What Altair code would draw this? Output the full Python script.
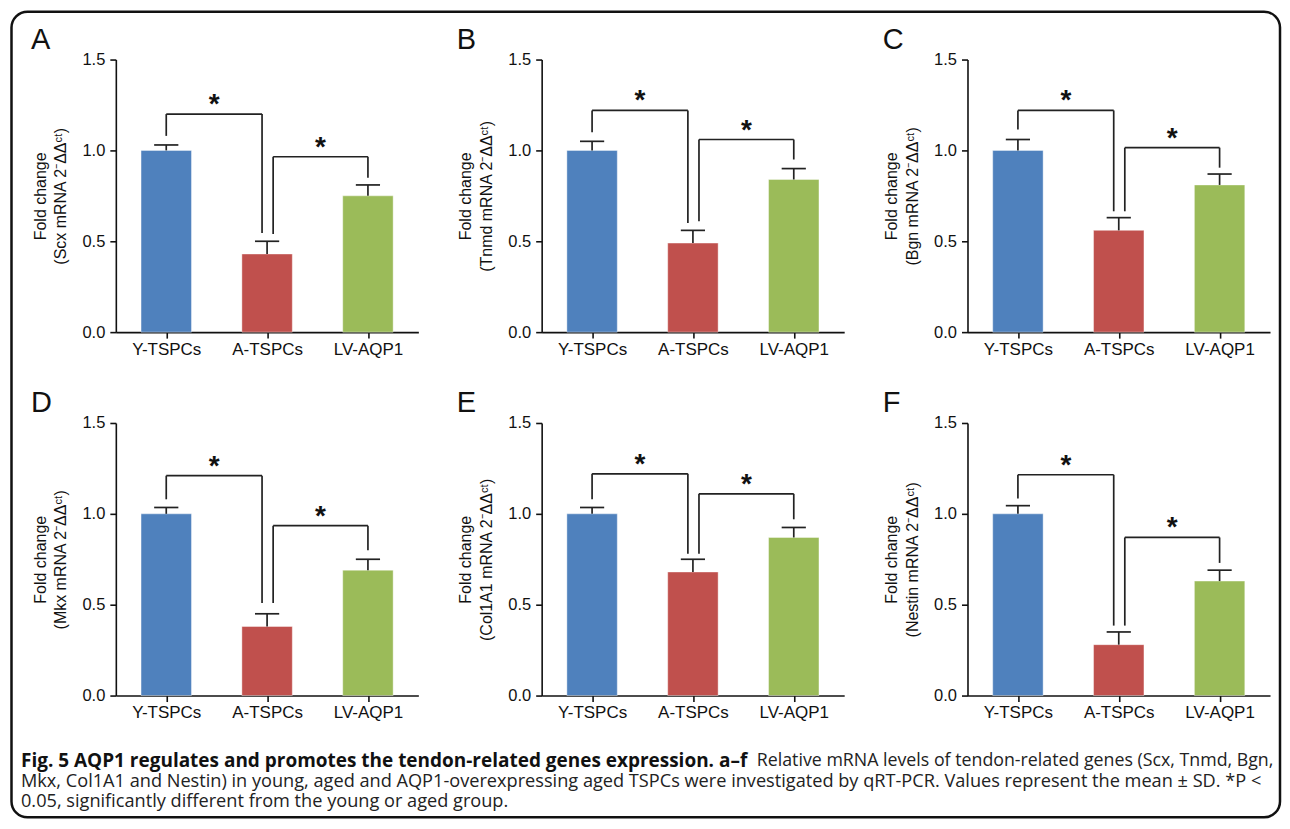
import json
import altair as alt
import pandas as pd

# ---------------- data ----------------
groups = ["Y-TSPCs", "A-TSPCs", "LV-AQP1"]
colors = ["#4F81BD", "#C0504D", "#9BBB59"]
letters = ["A", "B", "C", "D", "E", "F"]
genes = ["Scx", "Tnmd", "Bgn", "Mkx", "Col1A1", "Nestin"]
means = [
    [1.00, 0.43, 0.75],
    [1.00, 0.49, 0.84],
    [1.00, 0.56, 0.81],
    [1.00, 0.38, 0.69],
    [1.00, 0.68, 0.87],
    [1.00, 0.28, 0.63],
]
sds = [
    [0.030, 0.07, 0.060],
    [0.050, 0.07, 0.060],
    [0.060, 0.07, 0.060],
    [0.035, 0.07, 0.060],
    [0.035, 0.07, 0.055],
    [0.045, 0.07, 0.060],
]
# significance brackets: [left leg bottom, bracket top, right leg bottom]
br_young_aged = [
    [1.080, 1.200, 0.545],
    [1.100, 1.220, 0.600],
    [1.115, 1.220, 0.665],
    [1.080, 1.210, 0.510],
    [1.080, 1.220, 0.780],
    [1.085, 1.215, 0.385],
]
br_aged_lv = [
    [0.540, 0.965, 0.850],
    [0.610, 1.060, 0.950],
    [0.665, 1.015, 0.905],
    [0.510, 0.935, 0.800],
    [0.780, 1.110, 0.970],
    [0.385, 0.870, 0.730],
]
y_ticks = [0.0, 0.5, 1.0, 1.5]

caption_bold = "Fig. 5 AQP1 regulates and promotes the tendon-related genes expression. a\u2013f"
caption_l1 = "Relative mRNA levels of tendon-related genes (Scx, Tnmd, Bgn,"
caption_l2 = ("Mkx, Col1A1 and Nestin) in young, aged and AQP1-overexpressing aged TSPCs "
              "were investigated by qRT-PCR. Values represent the mean \u00b1 SD. *P <")
caption_l3 = "0.05, significantly different from the young or aged group."

FONT = "Liberation Sans"
CAP_FONT = "Open Sans"
PW, PH = 303, 273

label_expr = json.dumps(groups) + "[floor(datum.value)]"


def panel(k):
    pos = [i + 0.5 for i in range(3)]
    bars = pd.DataFrame({
        "group": groups,
        "x": [p - 0.25 for p in pos],
        "x2": [p + 0.25 for p in pos],
        "y": means[k],
        "y2": [0.0] * 3,
    })
    segs = []
    for p, m, s in zip(pos, means[k], sds[k]):
        segs.append((p, p, m, m + s))
        segs.append((p - 0.12, p + 0.12, m + s, m + s))
    stars = []
    for (xl, xr), b in (((0.5, 1.45), br_young_aged[k]), ((1.56, 2.5), br_aged_lv[k])):
        segs.append((xl, xl, b[0], b[1]))
        segs.append((xl, xr, b[1], b[1]))
        segs.append((xr, xr, b[1], b[2]))
        stars.append({"x": (xl + xr) / 2, "y": b[1], "t": "*"})
    segs = pd.DataFrame(segs, columns=["x", "x2", "y", "y2"])
    stars = pd.DataFrame(stars)

    xs = alt.Scale(domain=[0, 3], nice=False, zero=False)
    ys = alt.Scale(domain=[0, 1.5], nice=False)
    xaxis = alt.Axis(values=pos, labelExpr=label_expr, title=None, grid=False,
                     domainColor="#111", domainWidth=1.6, tickColor="#111", tickWidth=1.6,
                     tickSize=6, labelFontSize=17, labelFont=FONT, labelColor="#111",
                     labelPadding=3)
    yaxis = alt.Axis(values=y_ticks, format=".1f", grid=False,
                     title=["Fold change", f"({genes[k]} mRNA 2\u207b\u0394\u0394\u1d9c\u1d57)"],
                     titleFont=FONT, titleFontSize=16, titleFontWeight="normal",
                     titleColor="#111", titlePadding=13, titleLineHeight=21,
                     domainColor="#111", domainWidth=1.6, tickColor="#111", tickWidth=1.6,
                     tickSize=6, labelFontSize=16.5, labelFont=FONT, labelColor="#111",
                     labelPadding=5)

    bar = alt.Chart(bars).mark_bar(stroke="#ffffff", strokeOpacity=0.5, strokeWidth=0.8).encode(
        x=alt.X("x:Q", scale=xs, axis=xaxis),
        x2="x2:Q",
        y=alt.Y("y:Q", scale=ys, axis=yaxis),
        y2="y2:Q",
        color=alt.Color("group:N", scale=alt.Scale(domain=groups, range=colors), legend=None),
    )
    rules = alt.Chart(segs).mark_rule(color="#222", strokeWidth=1.7).encode(
        x="x:Q", x2="x2:Q", y="y:Q", y2="y2:Q"
    )
    star = alt.Chart(stars).mark_text(font=FONT, fontSize=28, fontWeight="bold",
                                      color="#111", baseline="alphabetic", dy=-1).encode(
        x="x:Q", y="y:Q", text="t:N"
    )
    return alt.layer(bar, rules, star).properties(
        width=PW, height=PH,
        title=alt.TitleParams(text=letters[k], anchor="start", frame="group", dx=-85, dy=3,
                              font=FONT, fontSize=29, fontWeight="normal", color="#111",
                              offset=0),
    )


# caption panel: placed one row-gap (91px) below the second row of panels
cap_src = pd.DataFrame({"t": [caption_bold]})
CAP_X = -95
cap_layers = [
    alt.Chart(cap_src).mark_text(font=CAP_FONT, fontSize=19, fontWeight="bold", align="left",
                                 baseline="middle", color="#111", text=caption_bold).encode(
        x=alt.value(CAP_X), y=alt.value(-25)),
    alt.Chart(cap_src).mark_text(font=CAP_FONT, fontSize=17.8, align="left", baseline="middle",
                                 color="#222", text=caption_l1).encode(
        x=alt.value(757 - 115), y=alt.value(-25)),
    alt.Chart(cap_src).mark_text(font=CAP_FONT, fontSize=18.2, align="left", baseline="middle",
                                 color="#222", text=caption_l2).encode(
        x=alt.value(CAP_X), y=alt.value(-4)),
    alt.Chart(cap_src).mark_text(font=CAP_FONT, fontSize=18.2, align="left", baseline="middle",
                                 color="#222", text=caption_l3).encode(
        x=alt.value(CAP_X), y=alt.value(16)),
    alt.Chart(cap_src).mark_rect(filled=False, stroke="#111", strokeWidth=2.5, cornerRadius=16).encode(
        x=alt.value(-104.5), x2=alt.value(1166), y=alt.value(-776), y2=alt.value(31)),
]
caption = alt.layer(*cap_layers).properties(width=20, height=20)

panels = [panel(k) for k in range(6)]
chart = alt.concat(
    *panels, caption, columns=3, align="none", bounds="flush",
    spacing={"row": 91, "column": 123.5},
).properties(
    padding={"left": 2, "top": 1, "right": 0, "bottom": 0},
    background="white",
).configure_view(stroke=None)

chart.save("out.html", embed_options={"renderer": "svg", "actions": False})
